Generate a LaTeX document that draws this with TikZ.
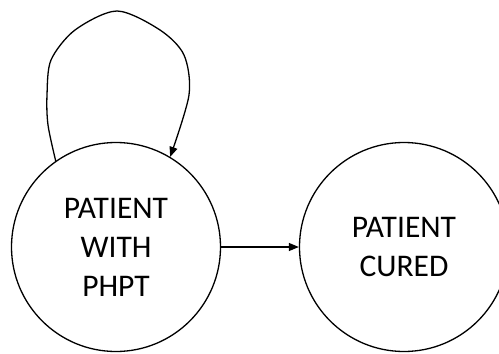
\documentclass[tikz,border=0pt]{standalone}
\usepackage{fontspec}
\setmainfont{Carlito}
\usetikzlibrary{arrows.meta}
\tikzset{
  state/.style={draw, circle, line width=1.3pt, minimum size=209pt, inner sep=0pt,
    align=center, font=\fontsize{31.5}{39}\selectfont},
  trans/.style={line width=1.3pt, -{Triangle[length=10pt,width=8pt]}}
}

\begin{document}
\begin{tikzpicture}[x=1pt,y=-1pt]
			%%%%% START %%%%%
			\useasboundingbox (0, 0) rectangle (499, 354);
			
			\node[state] (sick) at (116, 247) {PATIENT\\WITH\\PHPT};
			\node[state] (cured) at (404, 247) {PATIENT\\CURED};
			
			\draw[trans] (sick) -- (cured);
			
			\draw[trans] plot[smooth, tension=0.5] coordinates
				{(sick.125) (48, 125) (47, 95) (51, 60) (75, 30) (117, 11)
				 (160, 30) (184, 55) (189, 95) (sick.59)};
			%%%%% END %%%%%
		\end{tikzpicture}
\end{document}
